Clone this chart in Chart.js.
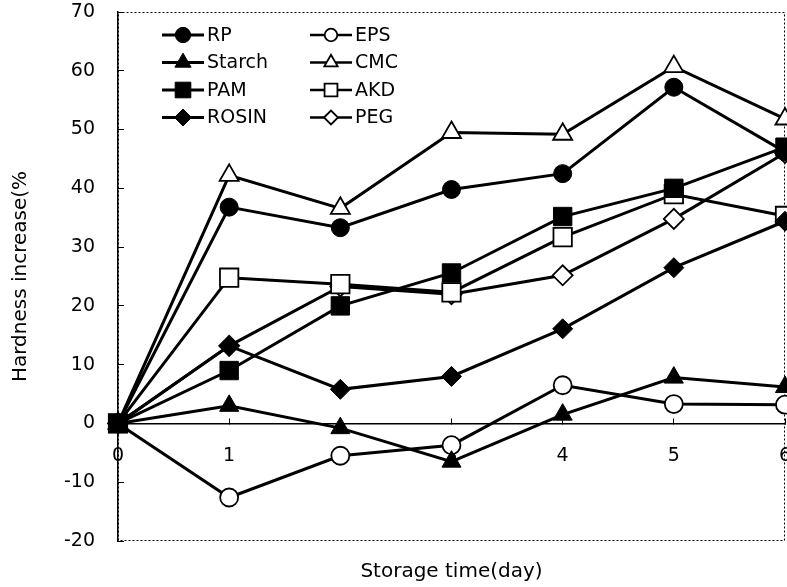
<!DOCTYPE html>
<html>
<head>
<meta charset="utf-8">
<title>Hardness increase vs storage time</title>
<script src="https://cdn.jsdelivr.net/npm/chart.js@4"></script>
<style>
  html, body { margin: 0; padding: 0; background: #fff; overflow: hidden; }
  canvas { display: block; }
</style>
</head>
<body>
<canvas id="hardnessChart" width="787" height="587"></canvas>

<script>
// storage time (day)
const days = ['0', '1', '2', '3', '4', '5', '6'];

// hardness increase (%)
const rp     = [0, 36.8, 33.3, 39.8, 42.5, 57.2, 46.2];
const starch = [0,  3.0, -0.8, -6.5,  1.5,  7.8,  6.2];
const pam    = [0,  9.0, 20.0, 25.6, 35.2, 40.0, 47.0];
const rosin  = [0, 13.2,  5.8,  8.0, 16.1, 26.5, 34.4];
const eps    = [0, -12.6, -5.5, -3.7, 6.5,  3.3,  3.2];
const cmc    = [0, 42.2, 36.6, 49.5, 49.2, 60.7, 51.8];
const akd    = [0, 24.8, 23.7, 22.3, 31.7, 39.0, 35.3];
const peg    = [0, 13.2, 23.3, 22.0, 25.2, 34.8, 46.0];

Chart.defaults.font.family = '"DejaVu Sans", sans-serif';
Chart.defaults.font.size = 19;
Chart.defaults.color = '#000';

function series(label, data, style, radius, filled) {
  return {
    label: label,
    data: data,
    borderColor: '#000',
    borderWidth: 3,
    fill: false,
    tension: 0,
    pointStyle: style,
    pointRadius: radius,
    pointHoverRadius: radius,
    pointBackgroundColor: filled ? '#000' : '#fff',
    pointBorderColor: '#000',
    pointBorderWidth: filled ? 1 : 1.8
  };
}

// the tick padding should not shrink the plot area
function noPadding(s) {
  s.paddingLeft = 0;
  s.paddingRight = 0;
  s.paddingTop = 0;
  s.paddingBottom = 0;
}

// dotted frame round the plot
const frame = {
  id: 'frame',
  beforeDraw(chart) {
    const { ctx, chartArea: a } = chart;
    ctx.save();
    ctx.strokeStyle = '#000';
    ctx.lineWidth = 1;
    ctx.setLineDash([2, 2]);
    ctx.strokeRect(a.left + 0.5, a.top + 0.5, a.right - a.left - 1, a.bottom - a.top - 1);
    ctx.restore();
  }
};

// two-column legend in the upper left corner of the plot
const cornerLegend = {
  id: 'cornerLegend',
  afterDraw(chart) {
    const { ctx, chartArea: a } = chart;
    ctx.save();
    ctx.font = '19px "DejaVu Sans", sans-serif';
    ctx.textBaseline = 'middle';
    chart.data.datasets.forEach((ds, i) => {
      const col = Math.floor(i / 4), row = i % 4;
      const x0 = a.left + 44 + col * 148;
      const y = a.top + 23 + row * 27.5;
      ctx.setLineDash([]);
      ctx.strokeStyle = '#000';
      ctx.lineWidth = col === 0 ? 3 : 2.5;
      ctx.beginPath();
      ctx.moveTo(x0, y);
      ctx.lineTo(x0 + 42, y);
      ctx.stroke();
      ctx.fillStyle = ds.pointBackgroundColor;
      ctx.lineWidth = ds.pointBorderWidth;
      Chart.helpers.drawPoint(ctx, {
        pointStyle: ds.pointStyle,
        radius: ds.pointRadius * (col === 0 ? 0.85 : 0.7),
        borderWidth: ds.pointBorderWidth,
        rotation: 0
      }, x0 + 21, y);
      ctx.fillStyle = '#000';
      ctx.fillText(ds.label, x0 + 45, y + 1);
    });
    ctx.restore();
  }
};

new Chart(document.getElementById('hardnessChart'), {
  type: 'line',
  data: {
    labels: days,
    datasets: [
      series('RP', rp, 'circle', 9, true),
      series('Starch', starch, 'triangle', 11, true),
      series('PAM', pam, 'rect', 13, true),
      series('ROSIN', rosin, 'rectRot', 10, true),
      series('EPS', eps, 'circle', 9, false),
      series('CMC', cmc, 'triangle', 11, false),
      series('AKD', akd, 'rect', 13, false),
      series('PEG', peg, 'rectRot', 10, false)
    ]
  },
  options: {
    responsive: false,
    animation: false,
    devicePixelRatio: 1,
    layout: { autoPadding: false, padding: { left: 0, top: 12, right: 2, bottom: 0 } },
    plugins: { legend: { display: false }, tooltip: { enabled: false } },
    scales: {
      x: {
        type: 'category',
        position: { y: 0 },
        offset: false,
        grid: { drawOnChartArea: false, tickLength: -6, color: '#000' },
        border: { color: '#000', width: 1.5 },
        ticks: { padding: 27, maxRotation: 0, autoSkip: false },
        afterFit: noPadding
      },
      xt: {
        type: 'linear',
        position: 'bottom',
        min: 0,
        max: 6,
        ticks: { display: false },
        grid: { display: false },
        border: { display: false },
        title: { display: true, text: 'Storage time(day)', font: { size: 20 }, padding: { top: 0, bottom: 3 } },
        afterFit(s) { noPadding(s); s.height = 46; }
      },
      y: {
        min: -20,
        max: 70,
        ticks: { stepSize: 10, padding: 29 },
        grid: { drawOnChartArea: false, tickLength: -6, color: '#000' },
        border: { color: '#000', width: 1.5 },
        title: { display: true, text: 'Hardness increase(%', font: { size: 20 }, padding: { top: 9, bottom: 0 } },
        afterFit(s) { noPadding(s); s.width = 118; }
      }
    }
  },
  plugins: [frame, cornerLegend]
});
</script>
</body>
</html>
